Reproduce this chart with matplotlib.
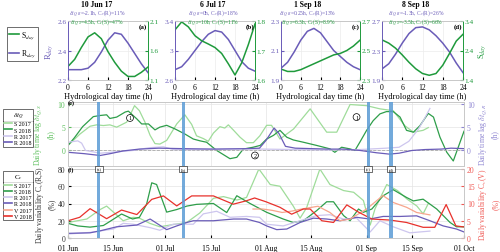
import matplotlib
matplotlib.use('Agg')
import matplotlib.pyplot as plt
from matplotlib.lines import Line2D

plt.rcParams['font.family'] = 'serif'
plt.rcParams['font.serif'] = ['Liberation Serif', 'DejaVu Serif']
plt.rcParams['mathtext.fontset'] = 'stix'

# colours
GREEN = '#1f9a3c'
PURPLE = '#6a5cb8'
S17 = '#9fdc9a'
S18 = '#2e9e4a'
R17 = '#cdc6ee'
R18 = '#6a5cb8'
V17 = '#f7a58c'
V18 = '#e8312c'
BAND = '#5b9bd5'

########## top panels: daily cycles ##########
hours = [0, 2, 4, 6, 8, 10, 12, 14, 16, 18, 20, 22, 24]

r_day_a = [2.27, 2.27, 2.27, 2.28, 2.32, 2.39, 2.47, 2.52, 2.51, 2.45, 2.38, 2.31, 2.25]
s_day_a = [1.33, 1.45, 1.65, 1.83, 1.90, 1.80, 1.58, 1.40, 1.25, 1.16, 1.16, 1.23, 1.32]
r_day_b = [2.74, 2.78, 2.88, 3.00, 3.12, 3.22, 3.27, 3.25, 3.15, 3.00, 2.85, 2.76, 2.72]
s_day_b = [1.77, 1.797, 1.78, 1.75, 1.733, 1.722, 1.71, 1.69, 1.655, 1.617, 1.658, 1.72, 1.79]
r_day_c = [1.98, 2.02, 2.09, 2.17, 2.23, 2.25, 2.22, 2.16, 2.10, 2.06, 2.02, 1.99, 1.97]
s_day_c = [2.374, 2.358, 2.358, 2.37, 2.39, 2.41, 2.43, 2.45, 2.47, 2.48, 2.50, 2.53, 2.57]
r_day_d = [2.05, 2.12, 2.25, 2.40, 2.53, 2.61, 2.62, 2.58, 2.50, 2.40, 2.28, 2.13, 2.00]
s_day_d = [2.76, 2.65, 2.48, 2.25, 2.00, 1.78, 1.62, 1.56, 1.62, 1.90, 2.30, 2.72, 2.95]

r_days = [r_day_a, r_day_b, r_day_c, r_day_d]
s_days = [s_day_a, s_day_b, s_day_c, s_day_d]
r_lims = [(2.2, 2.6), (2.6, 3.4), (1.9, 2.3), (1.9, 2.7)]
s_lims = [(1.1, 2.1), (1.6, 1.8), (2.3, 2.7), (1.4, 3.4)]
r_ticks = [[2.2, 2.4, 2.6], [2.6, 3, 3.4], [1.9, 2.1, 2.3], [1.9, 2.3, 2.7]]
s_ticks = [[1.1, 1.6, 2.1], [1.6, 1.7, 1.8], [2.3, 2.5, 2.7], [1.4, 2.4, 3.4]]

event_titles = ['10 Jun 17', '6 Jul 17', '1 Sep 18', '8 Sep 18']
event_letters = ['(a)', '(b)', '(c)', '(d)']
event_days = [9, 35, 92, 99]   # days after 01 Jun
r_texts = [r'$\delta t_{Q,R}$=-2.1h, C$_v$(R)=11%', r'$\delta t_{Q,R}$=0h, C$_v$(R)=18%',
           r'$\delta t_{Q,R}$=0.25h, C$_v$(R)=13%', r'$\delta t_{Q,R}$=-1.3h, C$_v$(R)=26%']
s_texts = [r'$\delta t_{Q,S}$=4.5h, C$_v$(S)=47%', r'$\delta t_{Q,S}$=10h, C$_v$(S)=11%',
           r'$\delta t_{Q,S}$=6.3h, C$_v$(S)=8.9%', r'$\delta t_{Q,S}$=-3.5h, C$_v$(S)=66%']

########## panel e: daily time lag ##########
s18_dt_days = [0, 2, 4.5, 7.8, 9.9, 11.9, 12.9, 15, 17.6, 18.6, 21.2, 22.7, 24.8, 26.8, 28.3, 30.4, 33,
               36, 38.6, 40.7, 42.7, 45.8, 49.9, 52, 54, 57, 59.2, 61.2, 63.3, 65.3, 67.4, 69.4, 72.5,
               76.6, 80.7, 82.2, 84.3, 86.8, 88.4, 89.9, 92, 94, 96.1, 98.1, 100.2, 102.3, 104.3,
               106.4, 108.4, 111, 112.6, 114.6, 116.7, 118.7, 122]
s18_dt = [0.9, 2.6, 5.0, 7.2, 7.45, 7.6, 6.8, 7.1, 8.2, 8.4, 6.7, 5.6, 5.6, 4.3, 4.9, 5.3, 4.5, 3.4,
          2.3, 1.9, 1.6, -0.2, -2.0, -1.7, 0.1, 0.5, 0.9, 2.3, 3.1, 4.2, 2.7, 2.1, 1.6, 0.9, 0.15,
          -0.6, 0.5, 0.15, -0.2, 1.6, 4.2, 6.3, 7.8, 8.3, 8.3, 7.1, 4.2, 3.8, 5.2, 7.9, 7.1, 2.7,
          -0.6, -2.5, 4.0]
s17_dt_days = [0, 3.7, 6.8, 8.8, 10.9, 12.9, 15, 18.1, 20.5, 22, 23.7, 25.3, 26.8, 28.3, 30.4, 33.5,
               36, 38.1, 39.6, 41.7, 43.2, 44.8, 46.8, 48.3, 49.4, 50.9, 53, 55, 57.1, 59.1, 61.2,
               62.7, 65.3, 69.5, 74.6, 79.7, 82.8, 86.9, 92, 96.1, 100.2, 103.8, 106.4, 109.4, 111]
s17_dt = [0.9, 3.4, 5.1, 5.4, 5.25, 5.4, 4.9, 6.0, 9.6, 8.5, 6.0, 3.1, 1.3, 1.2, 2.0, 5.6, 7.6, 5.5,
          3.0, 2.4, 1.8, 3.6, 5.0, 4.7, 5.4, 4.3, 2.7, 1.5, 1.5, 3.0, 5.3, 5.3, 2.3, 4.5, 8.9, 3.8,
          3.8, 9.85, 9.6, 8.9, 8.5, 5.2, 3.8, 4.2, 4.8]
r18_dt_days = [0, 5, 9.9, 13, 17, 22, 28, 35, 45, 55, 59, 61, 63.5, 65, 67, 70, 75, 80, 85, 90, 95,
               99, 102, 106, 110, 115, 118, 122]
r18_dt = [-0.6, -0.9, -1.3, -0.9, -0.3, 0.1, 0.3, 0.2, 0.1, 0.2, 0.3, 2.0, 4.7, 3.5, 0.7, 0.3, 0.2,
          0.1, 0.1, -0.2, -0.7, -1.0, -0.8, -0.2, 0.0, 0.1, 0.3, 0.2]
r17_dt_days = [0, 3, 4.2, 5.4, 9.9, 15, 20, 25, 29.4, 32.4, 40, 50, 60, 70, 80, 90, 98, 102, 105,
               108, 110, 111.5]
r17_dt = [1.6, 1.9, 1.4, -0.2, -0.8, -0.5, -0.2, 0.4, 0.6, 0.0, 0.0, 0.1, 0.1, 0.0, -0.1, 0.0, 0.3,
          0.5, 1.8, 4.5, 7.0, 9.0]

########## panel f: daily variability ##########
s17_cv_days = [0, 5.8, 9.9, 11.9, 17, 20.1, 22, 25.2, 28.3, 31.4, 34, 36.6, 40.6, 44.8, 47.9, 52, 55,
               58.8, 62.3, 65.3, 69.4, 71.5, 73.5, 77.6, 80.7, 84.9, 88, 91, 93.1, 94.6, 98.2,
               101.5, 104.5, 107.5, 109.4, 111]
s17_cv = [18, 22, 33, 37, 20, 24, 23, 17, 13, 15, 16.5, 18, 29, 46, 48, 44, 47, 80, 62, 60, 37, 23,
          35, 80, 62, 55, 53, 43.5, 15, 34, 62, 55, 45, 37, 28, 40]
s18_cv_days = [0, 3, 6.8, 10.9, 12.4, 16.5, 19.9, 22, 24.2, 25.8, 27.3, 30.4, 33.5, 36.6, 39.6, 44.8,
               48.9, 52, 56.1, 61.2, 66.3, 69.4, 72.5, 76.6, 79.7, 81.8, 84.9, 86.9, 89.5, 91, 93.6,
               97.1, 100.2, 104.3, 106.4, 109.4, 113.6, 117.7, 119.7, 122]
s18_cv = [17, 14, 12.6, 14.5, 18, 27.8, 22, 24, 39, 64, 62, 30, 33, 37, 39, 40, 29.5, 49, 40, 29.8,
          22, 18, 20, 31.7, 42, 42, 26, 20, 33.6, 29.8, 33.6, 49, 56, 47, 43, 45, 33.6, 18, 13, 13]
r18_cv_days = [0, 6.8, 9.9, 15, 21.2, 25.3, 30.4, 33.5, 36.6, 38.6, 44.8, 51, 55, 59, 61.2, 64.3,
               67.4, 71.5, 75.6, 79.7, 83.8, 88.9, 93, 97.1, 102.3, 107.4, 111.5, 115.6, 119.7, 122]
r18_cv = [5.4, 6.0, 8.3, 13, 15, 22, 9.7, 14, 18, 20, 20, 22, 22, 18, 14, 9.7, 10.4, 18, 23, 22, 20,
          24, 22, 25, 25, 25.7, 20, 14, 10.4, 7]
r17_cv_days = [0, 6.8, 14, 17, 20, 25.3, 28.3, 32.4, 38.6, 41.7, 45.8, 49.9, 55, 59, 61.2, 66.3,
               71.5, 76.6, 80.7, 84.9, 88.9, 93.1, 96.1, 100.2, 105.3, 108.4, 111.5]
r17_cv = [4.6, 6.5, 10.4, 17, 16, 12, 9, 16, 16, 28, 31, 24, 25, 24, 16, 14, 20, 26, 27, 22, 23, 7,
          20, 13, 6, 7, 8]
v18_cv_days = [0, 3.6, 6.8, 11.9, 16.5, 21.2, 25.8, 29.4, 33.5, 38.1, 44.8, 50.9, 55, 57.5, 61,
               65.3, 68.9, 72.5, 74.6, 78.2, 81.8, 85.9, 89.5, 93.6, 99.2, 104.3, 109.4, 113,
               116.5, 119.5, 122]
v18_cv = [5, 6, 8.5, 5.6, 8.1, 6.8, 11.2, 12.2, 9.3, 12.2, 12.2, 9.8, 10.8, 11.6, 10.5, 8.9, 6.9,
          8.4, 8.4, 5.0, 4.5, 9.6, 7.5, 5.5, 5.2, 4.5, 3.1, 3.1, 9.7, 3.5, 3.2]
v17_cv_days = [57, 60, 63, 66, 69, 72, 77, 80.7, 83.8, 86.9, 92, 97, 100.2, 104.3, 107.4, 111.5]
v17_cv = [8.4, 8.4, 8.0, 7.4, 7.8, 8.4, 9.2, 7.4, 5.0, 5.5, 8.4, 12.3, 10.3, 8.9, 7.4, 6.7]

date_ticks = [0, 14, 30, 44, 61, 75, 92, 106, 122]
date_labels = ['01 Jun', '15 Jun', '01 Jul', '15 Jul', '01 Aug', '15 Aug', '01 Sep', '15 Sep', '01 Oct']

circle_days = [19.1, 57.6, 88.9]
circle_vals = [6.9, -1.3, 7.1]
circle_labels = ['1', '2', '1']

#############functions################

W, H = 500.0, 253.0


def px(x0, y0, x1, y1):
    return [x0 / W, 1 - y1 / H, (x1 - x0) / W, (y1 - y0) / H]


def style_spines(ax, left, right, other='#c8c8c8'):
    ax.spines['left'].set_color(left)
    ax.spines['right'].set_color(right)
    ax.spines['top'].set_color(other)
    ax.spines['bottom'].set_color(other)
    for s in ax.spines.values():
        s.set_linewidth(0.6)


fig = plt.figure(figsize=(5, 2.53), dpi=100)

top_x = [(68, 148), (175, 255), (281, 360), (382, 463)]
text_x = [97, 213, 308, 416]

for i in range(4):
    x0, x1 = top_x[i]
    ax = fig.add_axes(px(x0, 22, x1, 81))
    ax.plot(hours, r_days[i], color=PURPLE, lw=1.1)
    ax.set_xlim(0, 24)
    ax.set_xticks([0, 6, 12, 18, 24])
    ax.set_ylim(r_lims[i])
    ax.set_yticks(r_ticks[i])
    ax.set_yticklabels([('%g' % v) for v in r_ticks[i]])
    ax.grid(color='#ececec', lw=0.5)
    ax.tick_params(axis='y', labelcolor=PURPLE, color=PURPLE, labelsize=5.2, direction='in', length=2, pad=1)
    ax.tick_params(axis='x', labelsize=5.5, direction='in', length=2, pad=2)
    ax.set_xlabel('Hydrological day time (h)', fontsize=6, labelpad=1)
    ax2 = ax.twinx()
    ax2.plot(hours, s_days[i], color=GREEN, lw=1.1)
    ax2.set_ylim(s_lims[i])
    ax2.set_yticks(s_ticks[i])
    ax2.set_yticklabels([('%g' % v) for v in s_ticks[i]])
    ax2.tick_params(axis='y', labelcolor=GREEN, color=GREEN, labelsize=5.2, direction='in', length=2, pad=1)
    style_spines(ax, PURPLE, GREEN)
    style_spines(ax2, PURPLE, GREEN)
    ax2.text(0.99, 0.97, event_letters[i], transform=ax2.transAxes, ha='right', va='top',
             fontsize=5, fontweight='bold')
    if i == 0:
        ax.set_ylabel(r'R$_{day}$', color=PURPLE, fontsize=6, labelpad=2)
    if i == 3:
        ax2.set_ylabel(r'S$_{day}$', color=GREEN, fontsize=6, labelpad=2)
    fig.text(text_x[i] / W, 1 - 5 / H, event_titles[i], ha='center', va='center', fontsize=5.5, fontweight='bold')
    fig.text(text_x[i] / W, 1 - 13.5 / H, r_texts[i], ha='center', va='center', fontsize=4.0, color=PURPLE)
    fig.text(text_x[i] / W, 1 - 23 / H, s_texts[i], ha='center', va='center', fontsize=4.0, color=GREEN)

# panel e
ax_e = fig.add_axes(px(68, 103, 464, 167))
ax_e.plot(s17_dt_days, s17_dt, color=S17, lw=0.9)
ax_e.plot(s18_dt_days, s18_dt, color=S18, lw=0.9)
ax_e.axhline(0, color='#aaaaaa', ls='--', lw=0.6)
ax_e.set_xlim(0, 122)
ax_e.set_ylim(-3.6, 10.4)
ax_e.set_yticks([0, 5, 10])
ax_e.set_xticks(date_ticks)
ax_e.set_xticklabels([])
ax_e.grid(color='#e4e4e4', lw=0.5)
ax_e.tick_params(axis='y', labelcolor='#5cbf5c', color='#5cbf5c', labelsize=5.5, direction='in', length=2, pad=2)
ax_e.tick_params(axis='x', length=0)
ax_e.set_ylabel('Daily time lag ' + r'$\delta t_{Q,S}$' + '\n(h)', color='#5cbf5c', fontsize=5.5,
                labelpad=2, linespacing=1.4)
ax_e2 = ax_e.twinx()
ax_e2.plot(r17_dt_days, r17_dt, color=R17, lw=0.9)
ax_e2.plot(r18_dt_days, r18_dt, color=R18, lw=0.9)
ax_e2.set_ylim(-3.6, 10.4)
ax_e2.set_yticks([0, 5, 10])
ax_e2.tick_params(axis='y', labelcolor='#8f86d2', color='#8f86d2', labelsize=5.5, direction='in', length=2, pad=2)
ax_e2.set_ylabel('Daily time lag ' + r'$\delta t_{Q,R}$' + '\n(h)', color='#8f86d2', fontsize=5.5,
                 labelpad=2, linespacing=1.4)
for a in (ax_e, ax_e2):
    style_spines(a, '#c8c8c8', '#c8c8c8')
for d, lab, v in zip(circle_days, circle_labels, circle_vals):
    ax_e2.text(d, v, lab, ha='center', va='center', fontsize=4.5, zorder=8,
               bbox=dict(boxstyle='circle,pad=0.15', fc='white', ec='black', lw=0.5))
ax_e2.text(0.0, 1.0, '(e)', transform=ax_e2.transAxes, ha='left', va='center', fontsize=4.5, fontweight='bold')

# panel f
ax_f = fig.add_axes(px(68, 170, 464, 239))
ax_f.plot(s17_cv_days, s17_cv, color=S17, lw=0.9)
ax_f.plot(s18_cv_days, s18_cv, color=S18, lw=0.9)
ax_f.plot(r17_cv_days, r17_cv, color=R17, lw=0.9)
ax_f.plot(r18_cv_days, r18_cv, color=R18, lw=0.9)
ax_f.set_xlim(0, 122)
ax_f.set_ylim(0, 80)
ax_f.set_yticks([0, 20, 40, 60, 80])
ax_f.set_xticks(date_ticks)
ax_f.set_xticklabels(date_labels)
ax_f.grid(color='#e4e4e4', lw=0.5)
ax_f.tick_params(axis='y', labelcolor='#333333', labelsize=5.5, direction='in', length=2, pad=2)
ax_f.tick_params(axis='x', labelsize=5.5, direction='in', length=2, pad=4)
ax_f.set_ylabel('Daily variability C$_v$(R,S)\n(%)', color='#333333', fontsize=5.5, labelpad=1,
                linespacing=1.3)
ax_f2 = ax_f.twinx()
ax_f2.plot(v17_cv_days, v17_cv, color=V17, lw=0.9)
ax_f2.plot(v18_cv_days, v18_cv, color=V18, lw=0.9)
ax_f2.set_ylim(0, 20)
ax_f2.set_yticks([0, 5, 10, 15, 20])
ax_f2.tick_params(axis='y', labelcolor='#f05a55', color='#f05a55', labelsize=5.5, direction='in', length=2, pad=2)
ax_f2.set_ylabel('Daily variability C$_v$(V)\n(%)', color='#f05a55', fontsize=5.5, labelpad=2,
                 linespacing=1.4)
for a in (ax_f, ax_f2):
    style_spines(a, '#c8c8c8', '#c8c8c8')
ax_f2.text(0.0, 1.0, '(f)', transform=ax_f2.transAxes, ha='left', va='center', fontsize=4.5, fontweight='bold')

# event bands with boxed letters
for d, lab in zip(event_days, event_letters):
    ax_e2.axvspan(d, d + 1, color=BAND, alpha=0.85, lw=0, zorder=6)
    ax_f2.axvspan(d, d + 1, color=BAND, alpha=0.85, lw=0, zorder=6)
    ax_f2.text(d + 0.5, 1.0, lab, transform=ax_f2.get_xaxis_transform(), ha='center', va='center',
               fontsize=3.2, zorder=9, clip_on=False,
               bbox=dict(boxstyle='square,pad=0.3', fc='white', ec='black', lw=0.4))

# legends
leg_kw = dict(frameon=True, fancybox=False, edgecolor='black', fontsize=4.3, title_fontsize=5,
              handlelength=1.3, handletextpad=0.3, borderpad=0.25, labelspacing=0.18, borderaxespad=0)
leg_top = fig.legend([Line2D([], [], color=GREEN, lw=1.2), Line2D([], [], color=PURPLE, lw=1.2)],
                     [r'S$_{day}$', r'R$_{day}$'], loc='upper left', bbox_to_anchor=(7 / W, 1 - 28 / H),
                     **dict(leg_kw, fontsize=5.5, labelspacing=0.9))
leg_top.get_frame().set_linewidth(0.5)

leg_dt = fig.legend([Line2D([], [], color=c, lw=1.2) for c in (S17, S18, R17, R18)],
                    ['S 2017', 'S 2018', 'R 2017', 'R 2018'], title=r'$\delta t_Q$',
                    loc='upper left', bbox_to_anchor=(3 / W, 1 - 110 / H), **leg_kw)
leg_cv = fig.legend([Line2D([], [], color=c, lw=1.2) for c in (S17, S18, R17, R18, V17, V18)],
                    ['S 2017', 'S 2018', 'R 2017', 'R 2018', 'V 2017', 'V 2018'], title=r'C$_v$',
                    loc='upper left', bbox_to_anchor=(3 / W, 1 - 172 / H), **leg_kw)
for leg in (leg_dt, leg_cv):
    leg.get_frame().set_linewidth(0.5)

# title separators inside the two lower legends
fig.canvas.draw()
for leg in (leg_dt, leg_cv):
    bb = leg.get_window_extent()
    tb = leg.get_title().get_window_extent()
    ysep = (tb.y0 - 1) / fig.bbox.height
    fig.add_artist(Line2D([bb.x0 / fig.bbox.width, bb.x1 / fig.bbox.width], [ysep, ysep],
                          transform=fig.transFigure, color='black', lw=0.5))

plt.savefig('out.png', dpi=100)
